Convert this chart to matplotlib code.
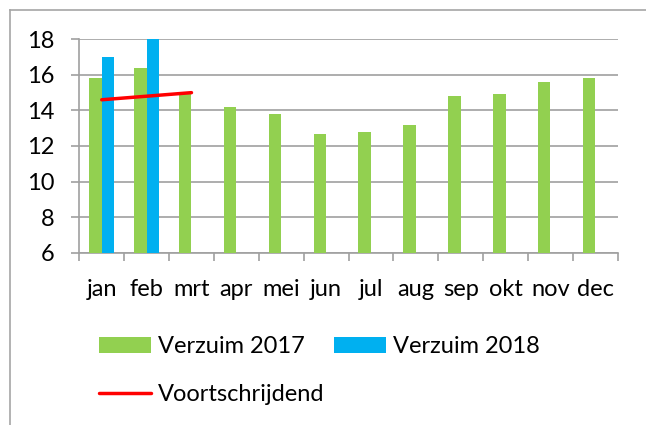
import numpy as np
import matplotlib
matplotlib.use("Agg")
import matplotlib.pyplot as plt
from matplotlib.lines import Line2D

months = ["jan", "feb", "mrt", "apr", "mei", "jun", "jul", "aug", "sep", "okt", "nov", "dec"]
verzuim_2017 = [15.8, 16.4, 14.9, 14.2, 13.8, 12.7, 12.8, 13.2, 14.8, 14.9, 15.6, 15.8]
verzuim_2018 = [17.0, 18.0]
voortschrijdend = [14.6, 14.8, 15.0]

GREEN = "#92D050"
BLUE = "#00B0F0"
RED = "#FF0000"
GRID = "#A0A0A0"

plt.rcParams["font.family"] = ["Lato", "DejaVu Sans"]
FS = 17

fig = plt.figure(figsize=(6.46, 4.25), dpi=100)
ax = fig.add_axes([79.3 / 646, 1 - 252.7 / 425, (617.7 - 79.3) / 646, (252.7 - 39.3) / 425])

x = np.arange(len(months))
w = 0.28
b17 = ax.bar(x - w / 2, verzuim_2017, width=w, color=GREEN, label="Verzuim 2017", zorder=3)
x18 = x[:len(verzuim_2018)]
b18 = ax.bar(x18 + w / 2, verzuim_2018, width=w, color=BLUE, label="Verzuim 2018", zorder=3)
line, = ax.plot(x[:len(voortschrijdend)], voortschrijdend, color=RED, linewidth=2.5,
                label="Voortschrijdend", zorder=4, solid_capstyle="round")

ax.set_ylim(6, 18)
ax.set_xlim(-0.5, len(months) - 0.5)
ax.set_yticks(np.arange(6, 19, 2))
ax.yaxis.grid(True, color=GRID, linewidth=1.2, zorder=0)

ax.set_xticks(x)
ax.set_xticklabels(months)
ax.set_xticks(np.arange(-0.5, len(months)), minor=True)
ax.tick_params(axis="x", which="major", length=0, pad=19, labelsize=FS)
ax.tick_params(axis="x", which="minor", length=6, color=GRID, width=1.2, direction="out")
ax.tick_params(axis="y", length=6, color=GRID, width=1.2, pad=12, labelsize=FS)

for side in ["top", "right"]:
    ax.spines[side].set_visible(False)
for side in ["left", "bottom"]:
    ax.spines[side].set_color(GRID)
    ax.spines[side].set_linewidth(1.2)

# ncol=2 fills column by column: 2017, Voortschrijdend | 2018
fig.legend([b17, line, b18], ["Verzuim 2017", "Voortschrijdend", "Verzuim 2018"],
           ncol=2, loc="upper left", bbox_to_anchor=(78 / 646, 1 - 315 / 425),
           frameon=False, fontsize=FS, handlelength=2.2, handleheight=0.65,
           handletextpad=0.3, columnspacing=0.4, labelspacing=1.12)

fig.add_artist(Line2D([10 / 646, 10 / 646], [0, 1 - 10 / 425], color="#A6A6A6", linewidth=1.2))
fig.add_artist(Line2D([10 / 646, 1], [1 - 10 / 425, 1 - 10 / 425], color="#A6A6A6", linewidth=1.2))

fig.savefig("out.png", dpi=100)
